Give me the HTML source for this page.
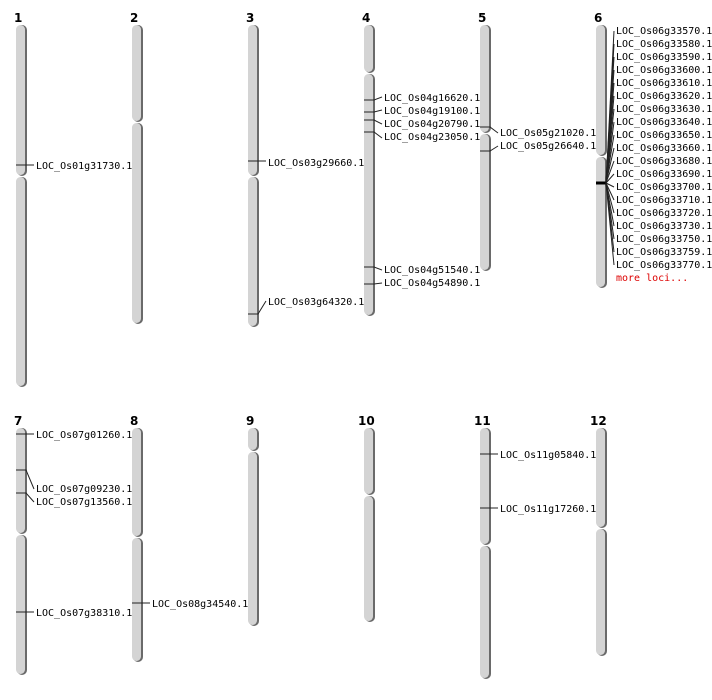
<!DOCTYPE html>
<html><head><meta charset="utf-8"><style>
body{margin:0;background:#fff}
svg{display:block}
.n{font-family:"DejaVu Sans","Liberation Sans",sans-serif;font-weight:bold;font-size:12px;fill:#000}
.l{font-family:"DejaVu Sans Mono","Liberation Mono",monospace;font-size:10px;fill:#000;dominant-baseline:middle}
.r{fill:#d00}
line,polyline{stroke:#222;stroke-width:1;fill:none}
</style></head><body>
<svg width="712" height="700" viewBox="0 0 712 700">
<defs>
<g id="s"></g>
</defs>
<g class="n">
<text x="14" y="22">1</text><text x="130" y="22">2</text><text x="246" y="22">3</text><text x="362" y="22">4</text><text x="478" y="22">5</text><text x="594" y="22">6</text>
<text x="14" y="425">7</text><text x="130" y="425">8</text><text x="246" y="425">9</text><text x="358" y="425">10</text><text x="474" y="425">11</text><text x="590" y="425">12</text>
</g>
<g>
<!-- shadow then body: x, y, h -->
<g fill="#6a6a6a">
<rect x="17" y="25" width="10" height="151" rx="5"/><rect x="17" y="177" width="10" height="210" rx="5"/>
<rect x="133" y="25" width="10" height="97" rx="5"/><rect x="133" y="123" width="10" height="201" rx="5"/>
<rect x="249" y="25" width="10" height="151" rx="5"/><rect x="249" y="177" width="10" height="150" rx="5"/>
<rect x="365" y="25" width="10" height="48" rx="5"/><rect x="365" y="74" width="10" height="242" rx="5"/>
<rect x="481" y="25" width="10" height="108" rx="5"/><rect x="481" y="134" width="10" height="137" rx="5"/>
<rect x="597" y="25" width="10" height="131" rx="5"/><rect x="597" y="157" width="10" height="131" rx="5"/>
<rect x="17" y="428" width="10" height="106" rx="5"/><rect x="17" y="535" width="10" height="140" rx="5"/>
<rect x="133" y="428" width="10" height="109" rx="5"/><rect x="133" y="538" width="10" height="124" rx="5"/>
<rect x="249" y="428" width="10" height="23" rx="5"/><rect x="249" y="452" width="10" height="174" rx="5"/>
<rect x="365" y="428" width="10" height="67" rx="5"/><rect x="365" y="496" width="10" height="126" rx="5"/>
<rect x="481" y="428" width="10" height="117" rx="5"/><rect x="481" y="546" width="10" height="133" rx="5"/>
<rect x="597" y="428" width="10" height="100" rx="5"/><rect x="597" y="529" width="10" height="127" rx="5"/>
</g>
<g fill="#d4d4d4">
<rect x="16" y="25" width="9" height="150" rx="4.5"/><rect x="16" y="177" width="9" height="209" rx="4.5"/>
<rect x="132" y="25" width="9" height="96" rx="4.5"/><rect x="132" y="123" width="9" height="200" rx="4.5"/>
<rect x="248" y="25" width="9" height="150" rx="4.5"/><rect x="248" y="177" width="9" height="149" rx="4.5"/>
<rect x="364" y="25" width="9" height="47" rx="4.5"/><rect x="364" y="74" width="9" height="241" rx="4.5"/>
<rect x="480" y="25" width="9" height="107" rx="4.5"/><rect x="480" y="134" width="9" height="136" rx="4.5"/>
<rect x="596" y="25" width="9" height="130" rx="4.5"/><rect x="596" y="157" width="9" height="130" rx="4.5"/>
<rect x="16" y="428" width="9" height="105" rx="4.5"/><rect x="16" y="535" width="9" height="139" rx="4.5"/>
<rect x="132" y="428" width="9" height="108" rx="4.5"/><rect x="132" y="538" width="9" height="123" rx="4.5"/>
<rect x="248" y="428" width="9" height="22" rx="4.5"/><rect x="248" y="452" width="9" height="173" rx="4.5"/>
<rect x="364" y="428" width="9" height="66" rx="4.5"/><rect x="364" y="496" width="9" height="125" rx="4.5"/>
<rect x="480" y="428" width="9" height="116" rx="4.5"/><rect x="480" y="546" width="9" height="132" rx="4.5"/>
<rect x="596" y="428" width="9" height="99" rx="4.5"/><rect x="596" y="529" width="9" height="126" rx="4.5"/>
</g>
</g>
<!-- connectors -->
<polyline points="16,165 34,165"/>
<polyline points="248,161 266,161"/>
<polyline points="248,314 258,314 266,301"/>
<polyline points="364,100 374,100 382,97"/>
<polyline points="364,112 374,112 382,110"/>
<polyline points="364,120 374,120 382,124"/>
<polyline points="364,132 374,132 382,138"/>
<polyline points="364,267 374,267 382,270"/>
<polyline points="364,284 374,284 382,283"/>
<polyline points="480,127 490,127 498,133"/>
<polyline points="480,151 490,151 498,146"/>
<polyline points="16,434 34,434"/>
<polyline points="16,470 26,470 34,489"/>
<polyline points="16,493 26,493 34,502"/>
<polyline points="16,612 34,612"/>
<polyline points="132,603 150,603"/>
<polyline points="480,454 498,454"/>
<polyline points="480,508 498,508"/>
<line x1="596" y1="183" x2="606" y2="183" style="stroke:#000;stroke-width:3"/>
<g style="stroke:#000">
<line x1="606" y1="183" x2="614" y2="31"/><line x1="606" y1="183" x2="614" y2="44"/><line x1="606" y1="183" x2="614" y2="57"/><line x1="606" y1="183" x2="614" y2="70"/><line x1="606" y1="183" x2="614" y2="83"/><line x1="606" y1="183" x2="614" y2="96"/><line x1="606" y1="183" x2="614" y2="109"/><line x1="606" y1="183" x2="614" y2="122"/><line x1="606" y1="183" x2="614" y2="135"/><line x1="606" y1="183" x2="614" y2="148"/><line x1="606" y1="183" x2="614" y2="161"/><line x1="606" y1="183" x2="614" y2="174"/><line x1="606" y1="183" x2="614" y2="187"/><line x1="606" y1="183" x2="614" y2="200"/><line x1="606" y1="183" x2="614" y2="213"/><line x1="606" y1="183" x2="614" y2="226"/><line x1="606" y1="183" x2="614" y2="239"/><line x1="606" y1="183" x2="614" y2="252"/><line x1="606" y1="183" x2="614" y2="265"/>
</g>
<g class="l">
<text x="36" y="166">LOC_Os01g31730.1</text>
<text x="268" y="163">LOC_Os03g29660.1</text>
<text x="268" y="302">LOC_Os03g64320.1</text>
<text x="384" y="98">LOC_Os04g16620.1</text>
<text x="384" y="111">LOC_Os04g19100.1</text>
<text x="384" y="124">LOC_Os04g20790.1</text>
<text x="384" y="137">LOC_Os04g23050.1</text>
<text x="384" y="270">LOC_Os04g51540.1</text>
<text x="384" y="283">LOC_Os04g54890.1</text>
<text x="500" y="133">LOC_Os05g21020.1</text>
<text x="500" y="146">LOC_Os05g26640.1</text>
<text x="616" y="31">LOC_Os06g33570.1</text>
<text x="616" y="44">LOC_Os06g33580.1</text>
<text x="616" y="57">LOC_Os06g33590.1</text>
<text x="616" y="70">LOC_Os06g33600.1</text>
<text x="616" y="83">LOC_Os06g33610.1</text>
<text x="616" y="96">LOC_Os06g33620.1</text>
<text x="616" y="109">LOC_Os06g33630.1</text>
<text x="616" y="122">LOC_Os06g33640.1</text>
<text x="616" y="135">LOC_Os06g33650.1</text>
<text x="616" y="148">LOC_Os06g33660.1</text>
<text x="616" y="161">LOC_Os06g33680.1</text>
<text x="616" y="174">LOC_Os06g33690.1</text>
<text x="616" y="187">LOC_Os06g33700.1</text>
<text x="616" y="200">LOC_Os06g33710.1</text>
<text x="616" y="213">LOC_Os06g33720.1</text>
<text x="616" y="226">LOC_Os06g33730.1</text>
<text x="616" y="239">LOC_Os06g33750.1</text>
<text x="616" y="252">LOC_Os06g33759.1</text>
<text x="616" y="265">LOC_Os06g33770.1</text>
<text x="616" y="278" class="r">more loci...</text>
<text x="36" y="435">LOC_Os07g01260.1</text>
<text x="36" y="489">LOC_Os07g09230.1</text>
<text x="36" y="502">LOC_Os07g13560.1</text>
<text x="36" y="613">LOC_Os07g38310.1</text>
<text x="152" y="604">LOC_Os08g34540.1</text>
<text x="500" y="455">LOC_Os11g05840.1</text>
<text x="500" y="509">LOC_Os11g17260.1</text>
</g>
</svg>
</body></html>
